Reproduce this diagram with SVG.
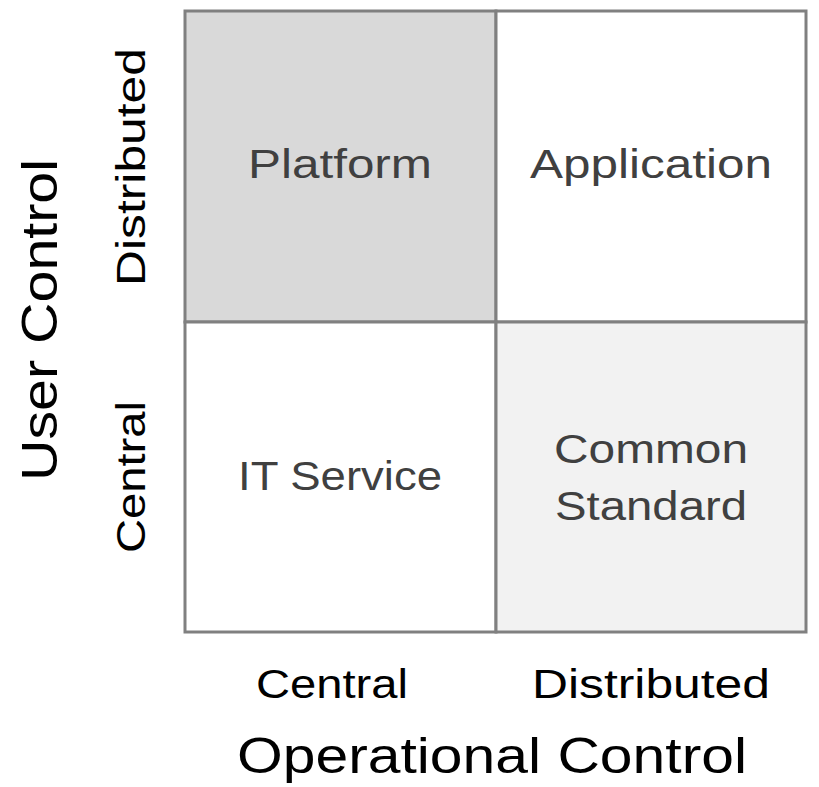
<svg xmlns="http://www.w3.org/2000/svg" width="819" height="787" viewBox="0 0 819 787">
<style>
.c{font-family:"Liberation Sans",Arial,sans-serif;font-size:40px;fill:#404040;text-anchor:middle}
.a{font-family:"Liberation Sans",Arial,sans-serif;font-size:40px;fill:#000;text-anchor:middle}
.t{font-family:"Liberation Sans",Arial,sans-serif;font-size:50px;fill:#000;text-anchor:middle}
.cell{stroke:#808080;stroke-width:3}
</style>
<rect width="819" height="787" fill="#fff"/>
<g id="platform"><rect class="cell" x="185" y="11" width="311" height="311" fill="#d9d9d9"/><text class="c" x="340" y="178" textLength="184" lengthAdjust="spacingAndGlyphs">Platform</text></g>
<g id="application"><rect class="cell" x="496" y="11" width="310" height="311" fill="#fff"/><text class="c" x="651" y="178" textLength="242" lengthAdjust="spacingAndGlyphs">Application</text></g>
<g id="itservice"><rect class="cell" x="185" y="322" width="311" height="310" fill="#fff"/><text class="c" x="340" y="490" textLength="204" lengthAdjust="spacingAndGlyphs">IT Service</text></g>
<g id="common"><rect class="cell" x="496" y="322" width="310" height="310" fill="#f2f2f2"/><text class="c" x="651" y="463" textLength="194" lengthAdjust="spacingAndGlyphs">Common</text><text class="c" x="651" y="520" textLength="192" lengthAdjust="spacingAndGlyphs">Standard</text></g>
<g id="labels">
<text class="a" x="332" y="698" textLength="152" lengthAdjust="spacingAndGlyphs">Central</text>
<text class="a" x="651" y="698" textLength="238" lengthAdjust="spacingAndGlyphs">Distributed</text>
<text class="t" x="492" y="773" textLength="510" lengthAdjust="spacingAndGlyphs">Operational Control</text>
<text class="t" transform="translate(57,320) rotate(-90)" textLength="322" lengthAdjust="spacingAndGlyphs">User Control</text>
<text class="a" transform="translate(145,167) rotate(-90)" textLength="238" lengthAdjust="spacingAndGlyphs">Distributed</text>
<text class="a" transform="translate(145,477) rotate(-90)" textLength="152" lengthAdjust="spacingAndGlyphs">Central</text>
</g>
<g id="connectors"/>
</svg>
